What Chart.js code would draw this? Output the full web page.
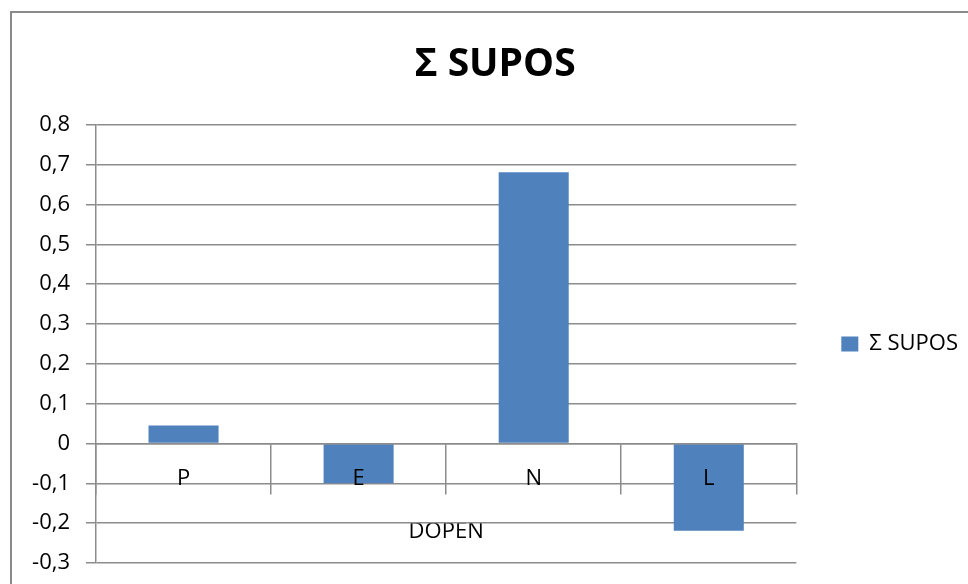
<!DOCTYPE html>
<html>
<head>
<meta charset="utf-8">
<script src="https://cdn.jsdelivr.net/npm/chart.js@4"></script>
<style>
  html, body { margin: 0; padding: 0; background: #fff; overflow: hidden; }
  #marco { position: absolute; left: 10px; top: 11px; width: 1000px; height: 600px; border: 2px solid #8a8a8a; }
  #lienzo { position: absolute; left: 0; top: 0; }
</style>
</head>
<body>
<div id="marco"></div>
<canvas id="lienzo" width="968" height="584"></canvas>
<script>
// datos
const categorias = ["P", "E", "N", "L"];
const valores    = [0.045, -0.1, 0.681, -0.219];
const serie      = "Σ SUPOS";
const tituloEjeX = "DOPEN";
const ejeYMin = -0.3, ejeYMax = 0.8, ejeYPaso = 0.1;

const gris  = "#8c8c8c";
const azul  = "#4f81bd";
const fuente = "'Open Sans', 'Liberation Sans', sans-serif";

function formatoComa(v) {
  if (Math.abs(v) < 1e-9) return "0";
  return v.toFixed(1).replace(".", ",");
}

const ctx = document.getElementById("lienzo").getContext("2d");
new Chart(ctx, {
  type: "bar",
  data: {
    labels: categorias,
    datasets: [{ label: serie, data: valores, backgroundColor: azul, borderWidth: 0,
                 barPercentage: 0.4, categoryPercentage: 1 }]
  },
  options: {
    responsive: false,
    animation: false,
    layout: { padding: { left: 22, right: 0, top: 0, bottom: 21 } },
    plugins: {
      title: {
        display: true, text: serie, color: "#000",
        font: { family: fuente, size: 39, weight: "bold" },
        padding: { top: 41, bottom: 37 }
      },
      legend: {
        position: "right",
        fullSize: false,
        labels: { boxWidth: 17, boxHeight: 15, padding: 45, color: "#000",
                  font: { family: fuente, size: 22 } }
      },
      tooltip: { enabled: false }
    },
    scales: {
      x: {
        position: { y: 0 },
        grid: { drawOnChartArea: false, drawTicks: true, tickLength: 50, color: gris, lineWidth: 1.5 },
        border: { display: true, color: gris, width: 1.5, z: 1 },
        ticks: { padding: -28, color: "#000", z: 1, font: { family: fuente, size: 22 } },
        title: { display: true, text: tituloEjeX, color: "#000",
                 font: { family: fuente, size: 22 }, padding: { top: 55, bottom: 0 } }
      },
      y: {
        min: ejeYMin, max: ejeYMax,
        afterFit: s => { s.width = 74; s.paddingTop = 0; s.paddingBottom = 0; },
        grid: { color: gris, lineWidth: 1.5, tickLength: 10 },
        border: { display: true, color: gris, width: 1.5 },
        ticks: { stepSize: ejeYPaso, padding: 16, color: "#000",
                 font: { family: fuente, size: 22 }, callback: v => formatoComa(v) }
      }
    }
  }
});
</script>
</body>
</html>
